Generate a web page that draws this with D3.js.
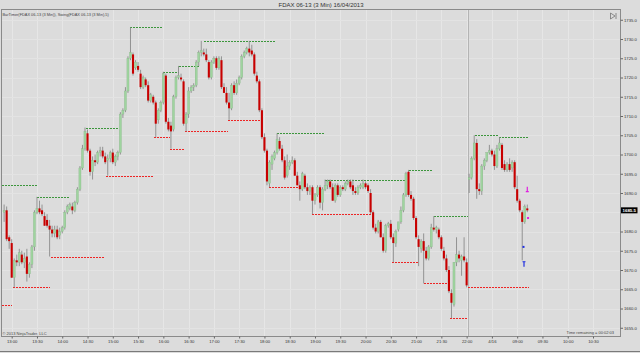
<!DOCTYPE html>
<html>
<head>
<meta charset="utf-8">
<script src="https://cdnjs.cloudflare.com/ajax/libs/d3/7.8.5/d3.min.js"></script>
<style>
    body { margin: 0; background: #dedede; }
    #chart { width: 640px; height: 353px; }
    text { font-family: "Liberation Sans", Arial, sans-serif; }
</style>
</head>
<body>
<div id="chart"></div>
<script>
// 3 min bars, bar 0 = 12:51 on 15/04, bar 184 = first bar of 16/04
const opens = [
    1685,1685.5,1678.5,1677,1668,1672.5,1672,1674,1672,1673.5,
    1669,1671.5,1676,1685,1686,1685.5,1684,1683,1681.5,1680.5,
    1679.5,1680.5,1679,1680,1681,1685,1686,1686.5,1685.5,1687.5,
    1691,1696.5,1701.5,1705.5,1701,1695.5,1698.5,1698,1700.5,1701,
    1699.5,1698.5,1699,1700.5,1698,1699.5,1700.5,1710.5,1711.5,1716.5,
    1725,1726,1722.5,1723,1721,1717.5,1719.5,1718,1714,1715,
    1713.5,1709,1711.5,1713.5,1720.5,1708.5,1707.5,1706.5,1715,1720,
    1720,1719,1708,1710.5,1716.5,1717.5,1718,1724,1726.5,1726.5,
    1726,1724,1720,1724,1725,1722.5,1724.5,1717.5,1716,1713.5,
    1712,1718,1716,1718.5,1720,1725.5,1726.5,1727.5,1727,1726,
    1720.5,1719,1711.5,1704.5,1701,1692.5,1697.5,1699,1700.5,1703.5,
    1701.5,1698.5,1694.5,1697,1698,1698.5,1694.5,1692,1691,1694.5,
    1691.5,1690.5,1691.5,1688,1689.5,1691.5,1687.5,1691,1692,1693,
    1691.5,1688,1692,1689.5,1691.5,1691,1692.5,1693,1692,1690.5,
    1690,1691.5,1691.5,1692.5,1692,1690,1685,1681,1680,1682.5,
    1678.5,1675,1681.5,1682,1678.5,1677,1680.5,1682.5,1685.5,1689.5,
    1695.5,1689.5,1688.5,1683.5,1678,1675.5,1677.5,1675,1673,1676,
    1681,1680.5,1680.5,1678.5,1675,1673,1670,1664,1661,1672,
    1674,1672.5,1673.5,1672,1693.5,1694,1699,1703,1691,1690.5,
    1697,1698.5,1700.5,1701,1700,1697,1701.5,1702.5,1697.5,1696,
    1697.5,1696.5,1698,1691,1688,1685,1682.5,1686
];
const highs = [
    1687,1686.5,1679,1678,1673,1674,1675.5,1675,1674.5,1675.5,
    1672,1676.5,1685.5,1689,1688,1687,1685,1684.5,1683,1681.5,
    1681.5,1681.5,1681,1681.5,1685.5,1687,1687.5,1687.5,1688,1691.5,
    1697,1702.5,1707,1706.5,1701.5,1699.5,1700,1701,1702,1702,
    1700.5,1700,1701,1701.5,1700,1701,1711,1712,1717.5,1725.5,
    1733,1726.5,1724.5,1724,1722,1720.5,1720,1719,1716,1715.5,
    1714,1712,1714,1721.5,1721,1709.5,1708.5,1715.5,1720.5,1723,
    1721,1719.5,1711,1717.5,1718,1718.5,1724.5,1727,1729.5,1727.5,
    1727.5,1724.5,1724.5,1725.5,1725.5,1725.5,1725.5,1718.5,1717.5,1716,
    1718.5,1719,1719.5,1720.5,1726,1727,1728,1729.5,1728.5,1726.5,
    1721.5,1719.5,1712,1705.5,1701.5,1698.5,1700,1701,1705.5,1704.5,
    1702.5,1699.5,1700,1698.5,1699.5,1699,1695.5,1693,1695.5,1695,
    1692.5,1692,1692,1690,1692,1692,1691.5,1693.5,1693.5,1693.5,
    1692.5,1692.5,1692.5,1692,1692,1693,1693.5,1693.5,1693.5,1691.5,
    1692,1692.5,1693.5,1693,1692.5,1691,1685.5,1682,1683,1683,
    1679.5,1682,1682.5,1683,1679.5,1680.5,1682.5,1686.5,1690,1695.5,
    1696,1690.5,1689,1684,1679,1678,1679.5,1676,1676.5,1682,
    1684,1681.5,1681,1679,1676,1674,1671,1665,1672,1678.5,
    1675,1674,1678.5,1673,1695,1699.5,1705,1704,1692.5,1697.5,
    1699,1700.5,1702.5,1701.5,1701,1702.5,1704.5,1703,1698.5,1698,
    1699,1698.5,1698.5,1694.5,1688.5,1685.5,1687,1687
];
const lows = [
    1682.5,1677.5,1675.5,1668,1665.5,1671,1671,1671.5,1670.5,1667,
    1668,1670.5,1675,1684.5,1684.5,1684,1681.5,1681,1673.5,1678.5,
    1678.5,1678,1678,1679.5,1680.5,1684.5,1685.5,1684.5,1685,1687,
    1690.5,1696,1701,1700.5,1694.5,1693.5,1697,1697.5,1699.5,1699,
    1697.5,1694.5,1698,1697.5,1697,1698.5,1700,1709.5,1711,1716,
    1724.5,1720.5,1722,1721.5,1717,1717,1717.5,1713.5,1713.5,1713,
    1704.5,1708,1711,1713,1708,1706,1701.5,1706,1714.5,1719.5,
    1719,1707.5,1706,1709.5,1716,1716.5,1717.5,1723,1725.5,1725.5,
    1724,1719.5,1719.5,1723.5,1722,1722,1717,1716,1713,1709,
    1711.5,1715.5,1715.5,1718,1719.5,1725,1726,1725.5,1725.5,1720.5,
    1718.5,1711,1704,1700.5,1692,1691.5,1696,1698.5,1700,1701,
    1698,1693.5,1694,1696,1697.5,1694.5,1692,1688,1690.5,1691,
    1689.5,1689.5,1684.5,1687,1689,1686,1685.5,1690.5,1691,1691,
    1688,1687.5,1689,1689,1690.5,1690.5,1692,1691,1689.5,1689.5,
    1689.5,1691,1691,1691,1690,1684.5,1680.5,1679.5,1679.5,1678.5,
    1674.5,1674.5,1681,1678,1672,1676,1680,1682,1685,1689,
    1689,1688,1683,1678,1671,1674.5,1666.5,1672.5,1672.5,1675.5,
    1680,1679.5,1678,1675,1672.5,1669.5,1664,1657.5,1660.5,1671,
    1672,1668.5,1672,1665.5,1690,1693.5,1698.5,1688.5,1689.5,1689.5,
    1696,1698,1700,1699.5,1696,1696.5,1701,1696,1695.5,1695.5,
    1695.5,1695.5,1691,1687.5,1685,1672.5,1682,1685
];
const closes = [
    1685.5,1678,1677.5,1668,1672.5,1672,1674.5,1672,1673,1669,
    1671.5,1676,1685,1686,1685,1684.5,1681.5,1681.5,1680.5,1679.5,
    1680.5,1678.5,1680,1681,1685,1686.5,1687,1685.5,1687.5,1691,
    1696.5,1701.5,1706,1701,1695.5,1698.5,1698,1700.5,1701,1699.5,
    1698,1699,1700.5,1698,1699.5,1700.5,1710.5,1711.5,1716.5,1725,
    1726.5,1721,1724,1722,1717.5,1720,1718,1714,1715.5,1713.5,
    1708,1711.5,1713.5,1721,1708.5,1706.5,1706,1715,1720,1720.5,
    1719.5,1708,1710.5,1716.5,1717.5,1718,1724,1726.5,1727,1726,
    1724.5,1720,1724,1725,1722.5,1725,1717.5,1716,1713.5,1712,
    1718,1716,1718.5,1720,1725.5,1726.5,1727.5,1726.5,1726,1721,
    1719,1711.5,1704.5,1701,1693,1698,1699.5,1700.5,1704,1701.5,
    1698.5,1694,1697,1698,1698.5,1694.5,1692,1691,1695,1691.5,
    1690.5,1691.5,1688,1689.5,1691.5,1687.5,1691,1692,1693,1691.5,
    1688,1692,1689.5,1691.5,1691,1692.5,1693,1691.5,1690.5,1690,
    1691.5,1692,1692.5,1691.5,1690.5,1685,1681,1680,1682.5,1678.5,
    1675,1681.5,1682,1678.5,1677,1680,1682.5,1685.5,1689.5,1695,
    1689.5,1688.5,1683.5,1678.5,1676,1677.5,1675,1673,1676,1681,
    1680.5,1681,1678.5,1675.5,1673,1670,1664.5,1661.5,1672,1674,
    1673,1673.5,1672.5,1666,1694,1699,1703,1691,1690.5,1697,
    1698.5,1700.5,1701,1700,1697,1701.5,1703,1696.5,1696,1697.5,
    1696,1698,1691.5,1688,1685.5,1682.5,1686.5,1685.5
];

// time axis
const tickBars = [3, 13, 23, 33, 43, 53, 63, 73, 83, 93, 103, 113, 123, 133, 143, 153, 163, 173, 183, 193, 203, 213, 223, 233];
const tickLabels = ["13:00", "13:30", "14:00", "14:30", "15:00", "15:30", "16:00", "16:30", "17:00", "17:30", "18:00", "18:30",
    "19:00", "19:30", "20:00", "20:30", "21:00", "21:30", "22:00", "4/16", "09:00", "09:30", "10:00", "10:30"];
const priceTicks = [1655, 1660, 1665, 1670, 1675, 1680, 1685, 1690, 1695, 1700, 1705, 1710, 1715, 1720, 1725, 1730, 1735];
const sessionBreaks = [183.6];

// swing indicator (strength 5)
const swingHighPrice = [1692, 1689, 1707, 1733, 1721.5, 1723, 1729.5, 1705.5, 1693.5, 1696, 1684, 1705, 1704.5];
const swingHighFrom = [-1, 13, 32.5, 50, 63, 69, 79, 108, 127, 160, 170, 186.5, 196];
const swingHighTo = [13, 26, 45, 62.5, 69, 77.5, 107.5, 127, 159, 169.5, 183.5, 196, 207.5];
const swingLowPrice = [1661, 1665.5, 1673.5, 1694.5, 1704.5, 1701.5, 1706, 1709, 1691.5, 1684.5, 1672, 1666.5, 1657.5, 1665.5];
const swingLowFrom = [-1, 3.5, 18.5, 40.5, 59.5, 65.5, 71.5, 88.5, 105, 122, 153.5, 166, 176.5, 183.5];
const swingLowTo = [3, 18, 40, 59.5, 65.5, 71.5, 88.5, 101.5, 117, 145, 164, 175.5, 183, 207.5];

// small markers on the last bars
const markerBar = [207, 207.3, 205.5, 205.7];
const markerPrice = [1691, 1683.5, 1676, 1671.5];
const markerColor = ["#e020e0", "#e020e0", "#2030e0", "#2030e0"];
const markerShape = ["up", "dot", "dot", "down"];

const lastPrice = closes[closes.length - 1];

class CandleChart {
    constructor(parentElement) {
        this.parentElement = parentElement;
        this.initVis();
    }

    initVis() {
        let vis = this;

        vis.width = 640;
        vis.height = 353;
        vis.plot = {left: 1.5, right: 620.5, top: 9.5, bottom: 336.5};

        vis.svg = d3.select("#" + vis.parentElement).append("svg")
            .attr("width", vis.width)
            .attr("height", vis.height);

        vis.svg.append("rect")
            .attr("width", vis.width).attr("height", vis.height)
            .attr("fill", "#dcdcdc");

        vis.x = d3.scaleLinear()
            .domain([3, 233])
            .range([11.7, 593]);

        vis.y = d3.scaleLinear()
            .domain([1655, 1730])
            .range([327.75, 39]);

        vis.svg.append("clipPath").attr("id", "plotClip")
            .append("rect")
            .attr("x", vis.plot.left).attr("y", vis.plot.top)
            .attr("width", vis.plot.right - vis.plot.left)
            .attr("height", vis.plot.bottom - vis.plot.top);

        vis.grid = vis.svg.append("g").attr("clip-path", "url(#plotClip)");
        vis.marks = vis.svg.append("g").attr("clip-path", "url(#plotClip)");

        vis.xAxis = d3.axisBottom(vis.x)
            .tickValues(tickBars)
            .tickFormat((d, i) => tickLabels[i])
            .tickSize(2)
            .tickPadding(1.5);

        // the tick hidden behind the last price box is left out
        vis.yAxis = d3.axisRight(vis.y)
            .tickValues(priceTicks.filter(p => Math.abs(p - lastPrice) > 1.5))
            .tickFormat(d3.format(".1f"))
            .tickSize(2.5)
            .tickPadding(1);

        this.wrangleData();
    }

    wrangleData() {
        let vis = this;

        vis.bars = opens.map((o, i) => ({
            i: i, open: o, high: highs[i], low: lows[i], close: closes[i]
        }));

        vis.swings = [];
        swingHighPrice.forEach((p, k) => vis.swings.push({price: p, from: swingHighFrom[k], to: swingHighTo[k], color: "#3c963c"}));
        swingLowPrice.forEach((p, k) => vis.swings.push({price: p, from: swingLowFrom[k], to: swingLowTo[k], color: "#ee2424"}));

        vis.markers = markerBar.map((b, k) => ({bar: b, price: markerPrice[k], color: markerColor[k], shape: markerShape[k]}));

        vis.updateVis();
    }

    updateVis() {
        let vis = this;

        // grid
        vis.grid.selectAll(".vgrid").data(tickBars).enter().append("line")
            .attr("class", "vgrid")
            .attr("x1", d => Math.round(vis.x(d)) + 0.5).attr("x2", d => Math.round(vis.x(d)) + 0.5)
            .attr("y1", vis.plot.top).attr("y2", vis.plot.bottom)
            .attr("stroke", "#e6e6e6").attr("stroke-width", 1);

        vis.grid.selectAll(".hgrid").data(priceTicks).enter().append("line")
            .attr("class", "hgrid")
            .attr("x1", vis.plot.left).attr("x2", vis.plot.right)
            .attr("y1", d => Math.round(vis.y(d)) + 0.5).attr("y2", d => Math.round(vis.y(d)) + 0.5)
            .attr("stroke", "#e3e3e3").attr("stroke-width", 1);

        vis.grid.selectAll(".session").data(sessionBreaks).enter().append("line")
            .attr("class", "session")
            .attr("x1", d => Math.round(vis.x(d)) + 0.5).attr("x2", d => Math.round(vis.x(d)) + 0.5)
            .attr("y1", vis.plot.top).attr("y2", vis.plot.bottom)
            .attr("stroke", "#b4b4b4").attr("stroke-width", 1);

        // swing lines, snapped to whole pixels so the dots stay sharp
        vis.marks.selectAll(".swing").data(vis.swings).enter().append("line")
            .attr("class", "swing")
            .attr("x1", d => Math.round(vis.x(d.from))).attr("x2", d => Math.round(vis.x(d.to)))
            .attr("y1", d => Math.round(vis.y(d.price)) + 0.5).attr("y2", d => Math.round(vis.y(d.price)) + 0.5)
            .attr("stroke", d => d.color)
            .attr("stroke-width", 1)
            .attr("stroke-dasharray", "2,1")
            .attr("shape-rendering", "crispEdges");

        // candles
        let candle = vis.marks.selectAll(".candle").data(vis.bars).enter().append("g")
            .attr("class", "candle");

        candle.append("line")
            .attr("x1", d => vis.x(d.i)).attr("x2", d => vis.x(d.i))
            .attr("y1", d => vis.y(d.high)).attr("y2", d => vis.y(d.low))
            .attr("stroke", "#8a8a8a").attr("stroke-width", 0.9);

        candle.append("rect")
            .attr("x", d => vis.x(d.i) - 1.05)
            .attr("width", 2.1)
            .attr("y", d => vis.y(Math.max(d.open, d.close)))
            .attr("height", d => Math.max(0.8, Math.abs(vis.y(d.open) - vis.y(d.close))))
            .attr("fill", d => d.close > d.open ? "#9fd49f" : (d.close < d.open ? "#c80000" : "#8c8c8c"))
            .attr("stroke", d => d.close > d.open ? "#84b484" : "none")
            .attr("stroke-width", 0.3);

        // markers
        vis.markers.forEach(m => {
            let mx = vis.x(m.bar), my = vis.y(m.price);
            if (m.shape === "dot") {
                vis.marks.append("rect").attr("x", mx - 1).attr("y", my - 1)
                    .attr("width", 2).attr("height", 2).attr("fill", m.color);
            } else {
                let dir = m.shape === "up" ? 1 : -1;
                vis.marks.append("line").attr("x1", mx).attr("x2", mx)
                    .attr("y1", my - 2.5 * dir).attr("y2", my + 2.5 * dir)
                    .attr("stroke", m.color).attr("stroke-width", 1.2);
                vis.marks.append("line").attr("x1", mx - 1.5).attr("x2", mx + 1.5)
                    .attr("y1", my + 2.5 * dir).attr("y2", my + 2.5 * dir)
                    .attr("stroke", m.color).attr("stroke-width", 1.2);
            }
        });

        // frame
        vis.svg.append("rect")
            .attr("x", vis.plot.left).attr("y", vis.plot.top)
            .attr("width", vis.plot.right - vis.plot.left)
            .attr("height", vis.plot.bottom - vis.plot.top)
            .attr("fill", "none").attr("stroke", "#8a8a8a").attr("stroke-width", 1);

        vis.svg.append("line")
            .attr("x1", 0).attr("x2", vis.width).attr("y1", 351.5).attr("y2", 351.5)
            .attr("stroke", "#7a7a7a").attr("stroke-width", 1);

        // axes
        let gx = vis.svg.append("g").attr("class", "x-axis")
            .attr("transform", `translate(0, ${vis.plot.bottom})`)
            .call(vis.xAxis);
        let gy = vis.svg.append("g").attr("class", "y-axis")
            .attr("transform", `translate(${vis.plot.right}, 0)`)
            .call(vis.yAxis);

        [gx, gy].forEach(g => {
            g.select(".domain").remove();
            g.selectAll(".tick line").attr("stroke", "#666");
            g.selectAll(".tick text").attr("fill", "#333").style("font-size", "4.2px");
        });

        // last price box
        let ly = vis.y(lastPrice);
        vis.svg.append("rect")
            .attr("x", vis.plot.right + 0.5).attr("y", ly - 3)
            .attr("width", 16.5).attr("height", 6)
            .attr("fill", "#000");
        vis.svg.append("text")
            .attr("x", vis.plot.right + 2).attr("y", ly + 1.6)
            .attr("fill", "#fff").style("font-size", "4.4px").style("font-weight", "bold")
            .text(d3.format(".1f")(lastPrice));

        // texts
        vis.svg.append("text")
            .attr("x", 321).attr("y", 7)
            .attr("text-anchor", "middle")
            .attr("fill", "#333").style("font-size", "6px")
            .text("FDAX 06-13 (3 Min)  16/04/2013");

        vis.svg.append("text")
            .attr("x", 2.5).attr("y", 15.5)
            .attr("fill", "#444").style("font-size", "3.9px")
            .text("BarTimer(FDAX 06-13 (3 Min)), Swing(FDAX 06-13 (3 Min),5)");

        vis.svg.append("text")
            .attr("x", 2.5).attr("y", 335)
            .attr("fill", "#444").style("font-size", "4px")
            .text("\u00a9 2013 NinjaTrader, LLC");

        vis.svg.append("text")
            .attr("x", 614).attr("y", 333.5)
            .attr("text-anchor", "end")
            .attr("fill", "#444").style("font-size", "4px")
            .text("Time remaining = 00:02:03");

        // little toolbar icon top right
        let ic = vis.svg.append("g").attr("transform", "translate(610.5, 13)")
            .attr("fill", "none").attr("stroke", "#666").attr("stroke-width", 0.7);
        ic.append("path").attr("d", "M0,0 L4.5,3 L0,6 Z");
        ic.append("line").attr("x1", 5.5).attr("x2", 5.5).attr("y1", 0).attr("y2", 6);
    }
}

new CandleChart("chart");
</script>
</body>
</html>
